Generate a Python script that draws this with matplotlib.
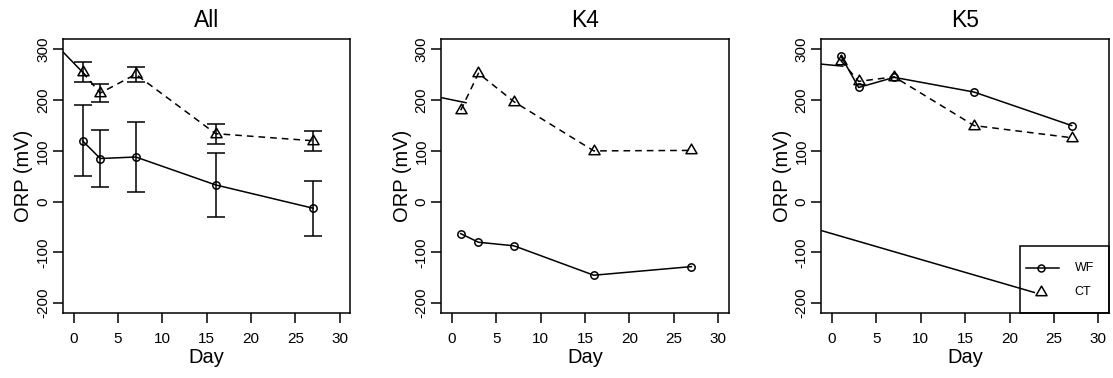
import matplotlib
matplotlib.use("Agg")
import matplotlib.pyplot as plt
from matplotlib.path import Path
from matplotlib.patches import Rectangle
from matplotlib.lines import Line2D
import numpy as np

plt.rcParams["font.family"] = ["Liberation Sans", "DejaVu Sans"]
plt.rcParams["axes.unicode_minus"] = False

# Data
days = [1, 3, 7, 16, 27]

all_wf = [120, 85, 88, 33, -13]
all_wf_sd = [70, 56, 68, 63, 54]
all_ct = [255, 214, 251, 134, 120]
all_ct_sd = [20, 18, 15, 20, 20]

k4_wf = [-63, -80, -87, -145, -128]
k4_ct = [180, 253, 197, 100, 101]

k5_wf = [287, 225, 245, 216, 150]
k5_ct = [278, 237, 246, 150, 126]

# stray line segments visible in the original panels (x pair, y pair)
all_stray = [([-1.2, 1.4], [295, 248])]
k4_stray = [([-1.2, 1.6], [205, 195])]
k5_stray = [([-1.2, 1.2], [271, 267]), ([-1.2, 22.8], [-57, -179])]

titles = ["All", "K4", "K5"]
x_ticks = [0, 5, 10, 15, 20, 25, 30]
y_ticks = [-200, -100, 0, 100, 200, 300]

# equilateral triangle marker, centred on its centroid (like R pch=2)
tri = Path([(-1, -0.577), (1, -0.577), (0, 1.155), (-1, -0.577)],
           [Path.MOVETO, Path.LINETO, Path.LINETO, Path.CLOSEPOLY])

lw = 1.1
dash = (0, (4.8, 3.6))
plt.rcParams["lines.scale_dashes"] = False

fig = plt.figure(figsize=(11.13, 3.78), dpi=100)
lefts = [0.0566, 0.3964, 0.738]
axes = [fig.add_axes([l, 0.1712, 0.2583, 0.7249]) for l in lefts]

panels = [
    (all_wf, all_ct, all_wf_sd, all_ct_sd, all_stray),
    (k4_wf, k4_ct, None, None, k4_stray),
    (k5_wf, k5_ct, None, None, k5_stray),
]

for ax, title, (wf, ct, wf_sd, ct_sd, stray) in zip(axes, titles, panels):
    ax.plot(days, wf, color="black", lw=lw, marker="o", ms=5.3,
            mfc="none", mec="black", mew=lw)
    ax.plot(days, ct, color="black", lw=lw, ls=dash, marker=tri, ms=9.2,
            mfc="none", mec="black", mew=lw)
    if wf_sd is not None:
        ax.errorbar(days, wf, yerr=wf_sd, fmt="none", ecolor="black",
                    elinewidth=lw, capsize=6.8, capthick=lw)
        ax.errorbar(days, ct, yerr=ct_sd, fmt="none", ecolor="black",
                    elinewidth=lw, capsize=6.8, capthick=lw)
    for sx, sy in stray:
        ax.plot(sx, sy, color="black", lw=lw)

    ax.set_xlim(-1.2, 31.2)
    ax.set_ylim(-220, 320)
    ax.set_xticks(x_ticks)
    ax.set_yticks(y_ticks)
    ax.tick_params(direction="out", length=7.2, width=lw, labelsize=11)
    ax.tick_params(axis="x", pad=6.5)
    ax.tick_params(axis="y", pad=2, labelrotation=90)
    for lab in ax.get_yticklabels():
        lab.set_va("center")
    for sp in ax.spines.values():
        sp.set_linewidth(lw)

    ax.set_title(title, fontsize=16.5, pad=9)
    ax.set_xlabel("Day", fontsize=14.5, va="baseline")
    ax.xaxis.set_label_coords(0.5, -0.183)
    ax.set_ylabel("ORP (mV)", fontsize=14.5, va="baseline")
    ax.yaxis.set_label_coords(-0.117, 0.5)

# legend box drawn by hand in the last panel
ax = axes[2]
ax.add_patch(Rectangle((0.692, 0.0), 0.308, 0.247, transform=ax.transAxes,
                       fill=False, edgecolor="black", lw=lw, clip_on=False))
ax.add_line(Line2D([0.71, 0.826], [0.164, 0.164], transform=ax.transAxes,
                   color="black", lw=lw))
ax.add_line(Line2D([0.763], [0.164], transform=ax.transAxes, marker="o", ms=5,
                   mfc="none", mec="black", mew=lw, ls="none"))
ax.add_line(Line2D([0.763], [0.079], transform=ax.transAxes, marker=tri, ms=9.2,
                   mfc="none", mec="black", mew=lw, ls="none"))
ax.text(0.881, 0.164, "WF", transform=ax.transAxes, fontsize=9,
        va="center", ha="left")
ax.text(0.881, 0.079, "CT", transform=ax.transAxes, fontsize=9,
        va="center", ha="left")

fig.savefig("out.png", dpi=100)
